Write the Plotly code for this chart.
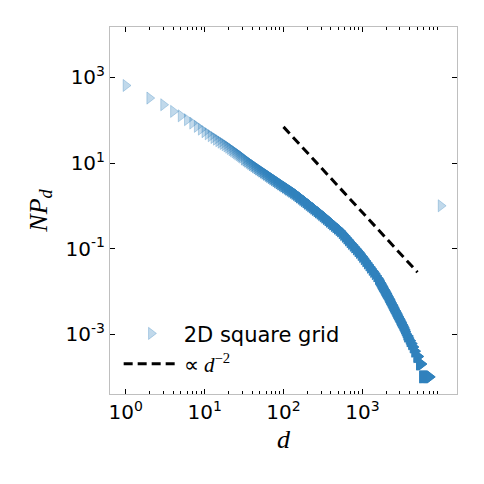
import numpy as np
from plotly import graph_objs as go

# distance d and N*P_d
d = [1, 2, 3, 4, 5, 6, 7, 8, 9, 10,
     11, 12, 13, 14, 15, 16, 17, 18, 19, 20, 21, 22, 23, 24, 25, 26, 27, 28, 29, 30,
     31.6, 33.1, 34.7, 36.3, 38.0, 39.8, 41.7, 43.7, 45.7, 47.9, 50.1, 52.5, 55, 57.5,
     60.3, 63.1, 66.1, 69.2, 72.4, 75.9, 79.4, 83.2, 87.1, 91.2, 95.5, 100, 105, 110,
     115, 120, 126, 132, 138, 145, 151, 158, 166, 174, 182, 191, 200, 209, 219, 229,
     240, 251, 263, 275, 288, 302, 316, 331, 347, 363, 380, 398, 417, 437, 457, 479,
     501, 525, 550, 575, 603, 631, 661, 692, 724, 759, 794, 832, 871, 912, 955, 1000,
     1047, 1096, 1148, 1202, 1259, 1318, 1380, 1445, 1514, 1585, 1622, 1660, 1698, 1738,
     1778, 1820, 1862, 1905, 1950, 1995, 2042, 2089, 2138, 2188, 2239, 2291, 2344, 2399,
     2455, 2512, 2570, 2630, 2692, 2754, 2818, 2884, 2951, 3020, 3090, 3162, 3236, 3311,
     3388, 3467, 3548, 3631, 3715, 3802, 3890, 3981, 4074, 4169, 4266, 4365, 4470, 4571,
     4700, 4850, 4950, 5050, 5150, 5250, 5350, 5450, 5550, 5650, 5750, 5850, 5950, 6050,
     6150, 6250, 6350, 6450, 6550, 6650, 6750, 6850, 6950, 7050, 7200, 9900]
np_d = [650, 330, 230, 161, 127, 103, 86, 72, 62, 54,
        48.2, 43.4, 39.4, 36.1, 33.2, 30.7, 28.6, 26.7, 25.0, 23.4, 21.9, 20.5, 19.4, 18.3,
        17.4, 16.5, 15.7, 15.0, 14.3, 13.7,
        12.43, 11.7, 11.03, 10.4, 9.78, 9.2, 8.67, 8.17, 7.71, 7.27, 6.87, 6.49, 6.12, 5.78,
        5.46, 5.15, 4.86, 4.59, 4.33, 4.09, 3.86, 3.65, 3.44, 3.25, 3.07, 2.90, 2.74, 2.59,
        2.45, 2.32, 2.19, 2.07, 1.95, 1.84, 1.72, 1.61, 1.51, 1.41, 1.32, 1.23, 1.15, 1.08,
        1.01, 0.942, 0.881, 0.824, 0.771, 0.721, 0.673, 0.628, 0.583, 0.542, 0.504, 0.468,
        0.435, 0.404, 0.375, 0.348, 0.324, 0.301, 0.279, 0.259, 0.235, 0.214, 0.194, 0.176,
        0.160, 0.145, 0.132, 0.120, 0.109, 0.0986, 0.0895, 0.0813, 0.0729, 0.0653, 0.0582,
        0.0519, 0.0462, 0.0412, 0.0367, 0.0327, 0.0292, 0.0260, 0.0229, 0.0201, 0.01865,
        0.0173, 0.0160, 0.0148, 0.01371, 0.0127, 0.01177, 0.0109, 0.01012, 0.0094, 0.00869,
        0.00804, 0.0074, 0.00681, 0.00627, 0.00577, 0.00531, 0.00489, 0.0045, 0.00414,
        0.00381, 0.00351, 0.00323, 0.00297, 0.00274, 0.00252, 0.00232, 0.00213, 0.00196,
        0.00181, 0.00166, 0.00153, 0.00139, 0.00126, 0.00114, 0.0010, 0.0009, 0.0009,
        0.0008, 0.0007, 0.0007, 0.0006, 0.0006, 0.0005, 0.0005, 0.0004,
        0.0004, 0.0003, 0.0003, 0.0003, 0.0003, 0.0002, 0.0002, 0.0002, 0.0002, 0.0002,
        0.0001, 0.0001, 0.0001, 0.0001, 0.0001, 0.0001, 0.0001, 0.0001, 0.0001, 0.0001,
        0.0001, 0.0001, 0.0001, 0.0001, 0.0001, 1.0]

# reference power law  ~ d^-2
line_d = [100, 5000]
line_np = [70, 0.028]

x_ticks = [1, 10, 100, 1000]
x_text = ["10<sup>0</sup>", "10<sup>1</sup>", "10<sup>2</sup>", "10<sup>3</sup>"]
y_ticks = [1e3, 1e1, 1e-1, 1e-3]
y_text = ["10<sup>3</sup>", "10<sup>1</sup>", "10<sup>-1</sup>", "10<sup>-3</sup>"]

# transparent markers get darker where the real data is dense
gap = np.diff(np.array(d, dtype=float), prepend=0)
n = np.where(gap > 1000, 1, np.maximum(gap, 1))
alpha = 1 - 0.7 ** n
colors = ["rgba(49,130,189,%.3f)" % a for a in alpha]

x_minor = [m * 10 ** e for e in range(0, 4) for m in range(2, 10)]

fig = go.Figure()
fig.add_trace(go.Scatter(
    x=d, y=np_d, mode="markers", name="2D square grid",
    marker=dict(symbol="triangle-right", size=10.5, color=colors,
                line=dict(color=colors, width=1)),
))
fig.add_trace(go.Scatter(
    x=line_d, y=line_np, mode="lines",
    name='<span style="font-family:Liberation Serif">∝ <i>d</i><sup>−2</sup></span>',
    line=dict(color="black", width=3, dash="9px,5px"),
))

axis = dict(type="log", showgrid=False, zeroline=False, showline=True,
            linecolor="#bfbfbf", linewidth=1, mirror="allticks",
            ticks="inside", ticklen=5, tickwidth=1, tickcolor="black",
            tickfont=dict(family="DejaVu Sans", size=20, color="black"))

fig.update_xaxes(axis, range=[-0.2, 4.2], tickmode="array", tickvals=x_ticks, ticktext=x_text,
                 minor=dict(ticks="inside", ticklen=3, tickcolor="black", tickvals=x_minor),
                 title=dict(text="<i>d</i>",
                            font=dict(family="Liberation Serif", size=26, color="black"),
                            standoff=6))
fig.update_yaxes(axis, range=[-4.4, 4.18], tickmode="array", tickvals=y_ticks, ticktext=y_text,
                 title=dict(text="<i>NP</i><sub><i>d</i></sub>",
                            font=dict(family="Liberation Serif", size=26, color="black"),
                            standoff=10))

# page body adds 8px, so margins are shifted to keep the frame where it belongs
fig.update_layout(
    width=484, height=484,
    margin=dict(l=102, r=35, t=19, b=98),
    plot_bgcolor="white", paper_bgcolor="white",
    legend=dict(x=0.025, y=0.22, xanchor="left", yanchor="top",
                bgcolor="rgba(0,0,0,0)",
                font=dict(family="DejaVu Sans", size=21, color="black"),
                itemwidth=55, tracegroupgap=0),
)

fig.write_html("out.html")
